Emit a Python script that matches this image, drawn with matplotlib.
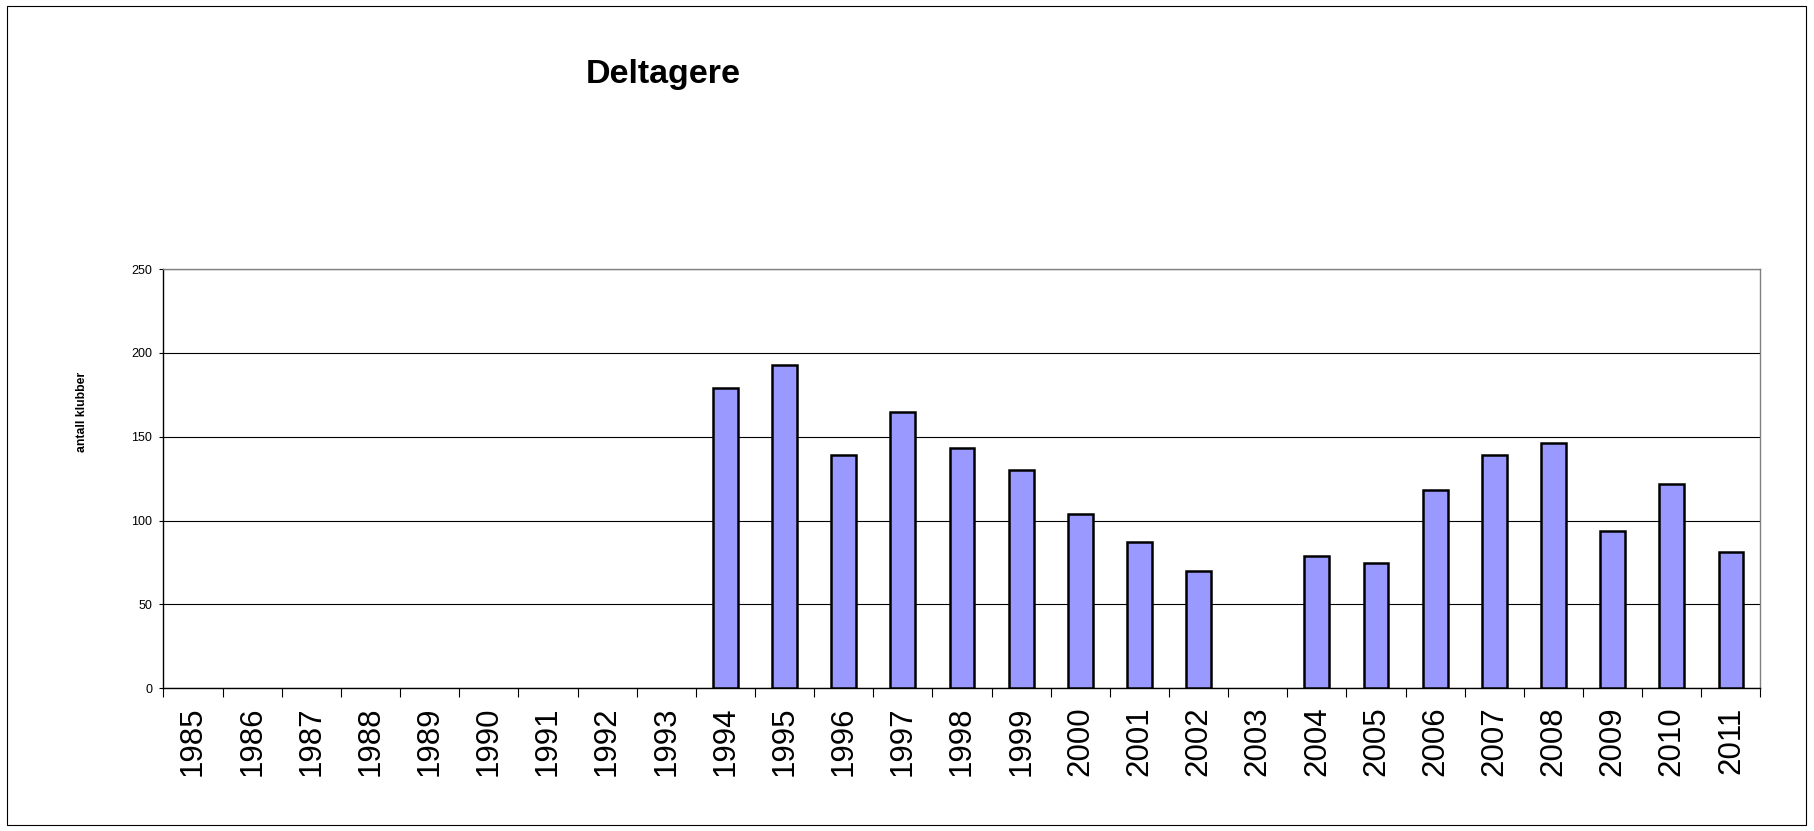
import matplotlib
matplotlib.use("Agg")
import matplotlib.pyplot as plt
from matplotlib.patches import Rectangle
import numpy as np

plt.rcParams['font.family'] = ['Liberation Sans', 'DejaVu Sans']

years = [str(y) for y in range(1985, 2012)]
values = [0, 0, 0, 0, 0, 0, 0, 0, 0,
          179, 193, 139, 165, 143, 130, 104, 87, 70, 0,
          79, 75, 118, 139, 146, 94, 122, 81]
title = "Deltagere"
ylabel = "antall klubber"
yticks = [0, 50, 100, 150, 200, 250]

W, H = 1815, 831
fig = plt.figure(figsize=(W / 100, H / 100), dpi=100)
fig.patch.set_facecolor('white')

# figure border
fig.patches.append(Rectangle((7 / W, 6 / H), (1806 - 7) / W, (825 - 6) / H,
                             transform=fig.transFigure, fill=False,
                             edgecolor='black', linewidth=0.8))

left, right, top, bottom = 163.5, 1760.5, 269, 688.3
ax = fig.add_axes([left / W, 1 - bottom / H, (right - left) / W, (bottom - top) / H])

x = np.arange(len(years))
vals = np.array(values, dtype=float)
mask = vals > 0
ax.bar(x[mask], vals[mask], width=0.42, color='#9999FF', edgecolor='black',
       linewidth=1.8, zorder=3)

ax.set_xlim(-0.5, len(years) - 0.5)
ax.set_ylim(0, 250)
ax.set_yticks(yticks)
ax.set_yticklabels([str(v) for v in yticks], fontsize=9)
ax.yaxis.grid(True, color='black', linewidth=0.8, zorder=0)
ax.set_axisbelow(True)

ax.set_xticks(x)
ax.set_xticklabels(years, rotation=90, fontsize=22.5, va='top')
ax.tick_params(axis='x', which='major', length=0, pad=13)
ax.set_xticks(np.arange(-0.5, len(years), 1.0), minor=True)
ax.tick_params(axis='x', which='minor', length=6.5, width=0.8, direction='out')
ax.tick_params(axis='y', length=3, width=0.8, direction='out', pad=5)

for s in ['left', 'bottom']:
    ax.spines[s].set_color('black')
    ax.spines[s].set_linewidth(1.0)
for s in ['top', 'right']:
    ax.spines[s].set_color('#808080')
    ax.spines[s].set_linewidth(1.0)

fig.text(663 / W, 1 - 83.3 / H, title, ha='center', va='baseline',
         fontsize=24.5, fontweight='bold')
fig.text(82 / W, 1 - 412 / H, ylabel, ha='center', va='center', rotation=90,
         fontsize=8.8, fontweight='bold')

fig.savefig('out.png', dpi=100)
